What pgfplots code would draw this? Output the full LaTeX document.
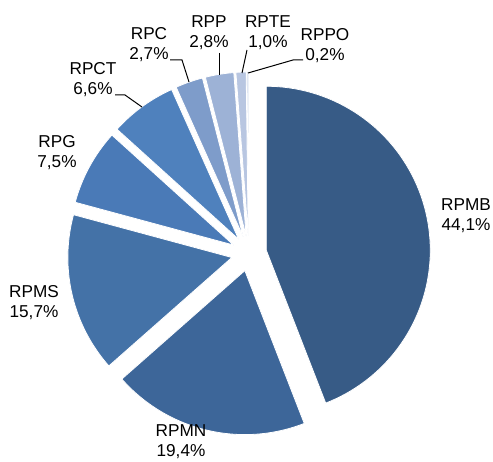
\documentclass[border=0pt]{standalone}
\usepackage{pgfplots}
\pgfplotsset{compat=1.18}
\usepackage{fontspec}
\setmainfont{Liberation Sans}
\definecolor{cMB}{HTML}{375B86}
\definecolor{cMN}{HTML}{3D6699}
\definecolor{cMS}{HTML}{4472A7}
\definecolor{cPG}{HTML}{4A7AB7}
\definecolor{cCT}{HTML}{4F81BD}
\definecolor{cPC}{HTML}{7E9CCA}
\definecolor{cPP}{HTML}{9DB2D6}
\definecolor{cTE}{HTML}{B8C6E1}
\definecolor{cPO}{HTML}{D1DAEB}
% pie geometry (axis units = pixels of the reference)
\def\cx{249}\def\cy{207.5}\def\dd{17.6}\def\rr{164}
% \slice{start angle}{percent}{colour}: wedge clockwise, exploded by \dd
\newcommand\slice[3]{%
 \pgfmathsetmacro\sa{#1}\pgfmathsetmacro\sb{#1-3.6*#2}%
 \pgfmathsetmacro\sm{(\sa+\sb)/2}%
 \pgfmathsetmacro\ox{\cx+\dd*cos(\sm)}\pgfmathsetmacro\oy{\cy+\dd*sin(\sm)}%
 \edef\tmp{\noexpand\addplot[fill=#3,draw=white,line width=.4pt,domain=\sb:\sa,samples=80]
  ({\ox+\rr*cos(x)},{\oy+\rr*sin(x)}) -- (axis cs:\ox,\oy) -- cycle;}\tmp
 \global\let\nextstart\sb}
\begin{document}
\begin{tikzpicture}[font=\fontsize{8.6}{10}\selectfont]
 \begin{axis}[scale only axis,width=246.5pt,height=230.5pt,
  xmin=0,xmax=493,ymin=0,ymax=461,hide axis,clip=false]
  \addplot[draw=none] coordinates {(0,0)(493,461)};
  \slice{90}{44.1}{cMB}
  \slice{\nextstart}{19.4}{cMN}
  \slice{\nextstart}{15.7}{cMS}
  \slice{\nextstart}{7.5}{cPG}
  \slice{\nextstart}{6.6}{cCT}
  \slice{\nextstart}{2.7}{cPC}
  \slice{\nextstart}{2.8}{cPP}
  \slice{\nextstart}{1.0}{cTE}
  \slice{\nextstart}{0.2}{cPO}
  % leader lines
  \addplot[black,line width=.5pt] coordinates {(115,366)(125,366)(142,354)};
  \addplot[black,line width=.5pt] coordinates {(170,401)(182,401)(189,379)};
  \addplot[black,line width=.5pt] coordinates {(219,408)(219,386)};
  \addplot[black,line width=.5pt] coordinates {(247,411)(242,388)};
  \addplot[black,line width=.5pt] coordinates {(303,401)(293,401)(248,388)};
  % labels
  \tikzset{lab/.style={align=center,inner sep=0pt}}
  \node[lab] at (axis cs:466,245) {RPMB\\44,1\%};
  \node[lab] at (axis cs:181,19) {RPMN\\19,4\%};
  \node[lab] at (axis cs:34,158) {RPMS\\15,7\%};
  \node[lab] at (axis cs:57,308) {RPG\\7,5\%};
  \node[lab] at (axis cs:93,381) {RPCT\\6,6\%};
  \node[lab] at (axis cs:149,416) {RPC\\2,7\%};
  \node[lab] at (axis cs:209,428) {RPP\\2,8\%};
  \node[lab] at (axis cs:268,428) {RPTE\\1,0\%};
  \node[lab] at (axis cs:325,415) {RPPO\\0,2\%};
 \end{axis}
\end{tikzpicture}
\end{document}
